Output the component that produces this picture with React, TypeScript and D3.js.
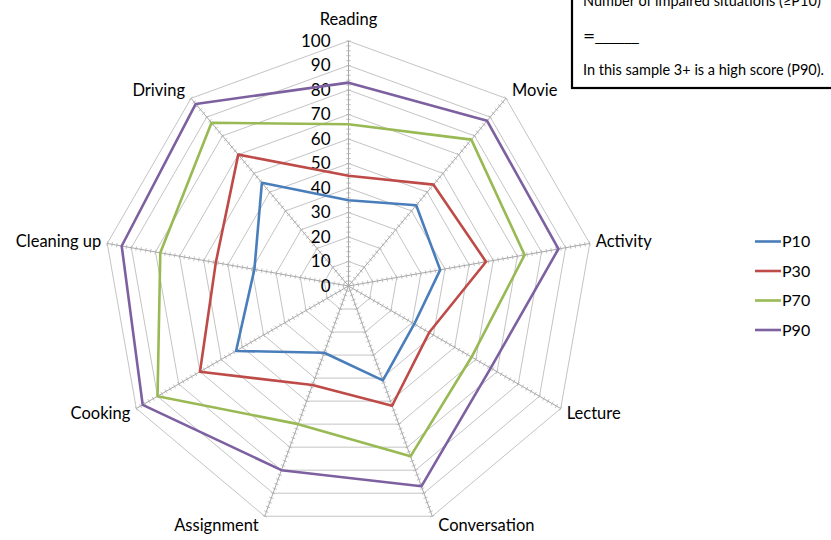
import React from 'react';
import * as d3 from 'd3';

const categories = ['Reading', 'Movie', 'Activity', 'Lecture', 'Conversation', 'Assignment', 'Cooking', 'Cleaning up', 'Driving'];
const seriesNames = ['P10', 'P30', 'P70', 'P90'];
const p10 = [35, 43, 38, 31, 41, 29, 53, 39, 55];
const p30 = [45, 54, 57, 38, 52, 43, 70, 55, 70];
const p70 = [66, 78, 73, 58, 74, 60, 90, 78, 87];
const p90 = [83, 88, 87, 67, 87, 80, 97, 94, 97];
const tickValues = [0, 10, 20, 30, 40, 50, 60, 70, 80, 90, 100];
const noteLines = ['Number of impaired situations (\u2265P10)', '=______', 'In this sample 3+ is a high score (P90).'];

const colors = ['#4a7ebb', '#be4b48', '#98b954', '#7d60a0'];
const font = 'Lato, "Open Sans", sans-serif';

const W = 831;
const H = 540;
const cx = 348.5;
const cy = 286;
const R = 245;

export default function App() {
  const series = [p10, p30, p70, p90];
  const r = d3.scaleLinear().domain([0, 100]).range([0, R]);
  const step = (Math.PI * 2) / categories.length;
  const ang = (i: number) => i * step;
  const pt = (i: number, v: number): [number, number] => [
    cx + r(v) * Math.sin(ang(i)),
    cy - r(v) * Math.cos(ang(i)),
  ];

  const radial = d3
    .lineRadial<number>()
    .angle((_, i) => ang(i))
    .radius((d) => r(d))
    .curve(d3.curveLinearClosed);

  const ringLevels = d3.range(10, 101, 10);
  const minorTicks = d3.range(2, 101, 2);

  return (
    <svg width={W} height={H} style={{ position: 'absolute', left: 0, top: 0, background: '#fff' }} fontFamily={font}>
      {/* rings */}
      {ringLevels.map((lv) => (
        <path
          key={'ring' + lv}
          d={radial(categories.map(() => lv)) || ''}
          transform={`translate(${cx},${cy})`}
          fill="none"
          stroke="#c4c4c4"
          strokeWidth={1}
        />
      ))}
      {/* spokes + ticks */}
      {categories.map((c, i) => {
        const [x2, y2] = pt(i, 100);
        const a = ang(i);
        const tx = Math.cos(a);
        const ty = Math.sin(a);
        return (
          <g key={'spoke' + c}>
            <line x1={cx} y1={cy} x2={x2} y2={y2} stroke="#a6a6a6" strokeWidth={1} />
            {minorTicks.map((t) => {
              const [px, py] = pt(i, t);
              return (
                <line
                  key={t}
                  x1={px - tx * 2.2}
                  y1={py - ty * 2.2}
                  x2={px + tx * 2.2}
                  y2={py + ty * 2.2}
                  stroke="#b0b0b0"
                  strokeWidth={0.8}
                />
              );
            })}
          </g>
        );
      })}
      {/* value labels */}
      {tickValues.map((t) => (
        <text key={'tl' + t} x={cx - 18} y={cy - r(t)} dy="0.35em" textAnchor="end" fontSize={17} fill="#000">
          {t}
        </text>
      ))}
      {/* category labels */}
      {categories.map((c, i) => {
        const [ex, ey] = pt(i, 100);
        const s = Math.sin(ang(i));
        const co = Math.cos(ang(i));
        const mid = Math.abs(s) < 0.1;
        const anchor = mid ? 'middle' : s > 0 ? 'start' : 'end';
        const x = ex + (mid ? 0 : s > 0 ? 6 : -6);
        const y = ey - co * 10 - (mid ? 12 * Math.sign(co) : 0);
        return (
          <text key={'cl' + c} x={x} y={y} dy="0.35em" textAnchor={anchor} fontSize={16.5} fill="#000">
            {c}
          </text>
        );
      })}
      {/* series */}
      {series.map((vals, k) => (
        <path
          key={'s' + k}
          d={radial(vals) || ''}
          transform={`translate(${cx},${cy})`}
          fill="none"
          stroke={colors[k]}
          strokeWidth={2.6}
          strokeLinejoin="round"
        />
      ))}
      {/* legend */}
      {seriesNames.map((n, k) => {
        const y = 241.5 + k * 29.5;
        return (
          <g key={'lg' + n}>
            <line x1={755} x2={781} y1={y} y2={y} stroke={colors[k]} strokeWidth={2.6} />
            <text x={782} y={y} dy="0.35em" fontSize={16} fill="#000">
              {n}
            </text>
          </g>
        );
      })}
      {/* note box */}
      <rect x={572} y={-20} width={280} height={108} fill="#fff" stroke="#000" strokeWidth={2.2} />
      {noteLines.map((l, i) => (
        <text
          key={'n' + i}
          x={583}
          y={[6, 41, 75][i]}
          fontSize={14.5}
          fill="#000"
          fontFamily={i === 1 ? '"DejaVu Sans", sans-serif' : font}
        >
          {l}
        </text>
      ))}
    </svg>
  );
}
